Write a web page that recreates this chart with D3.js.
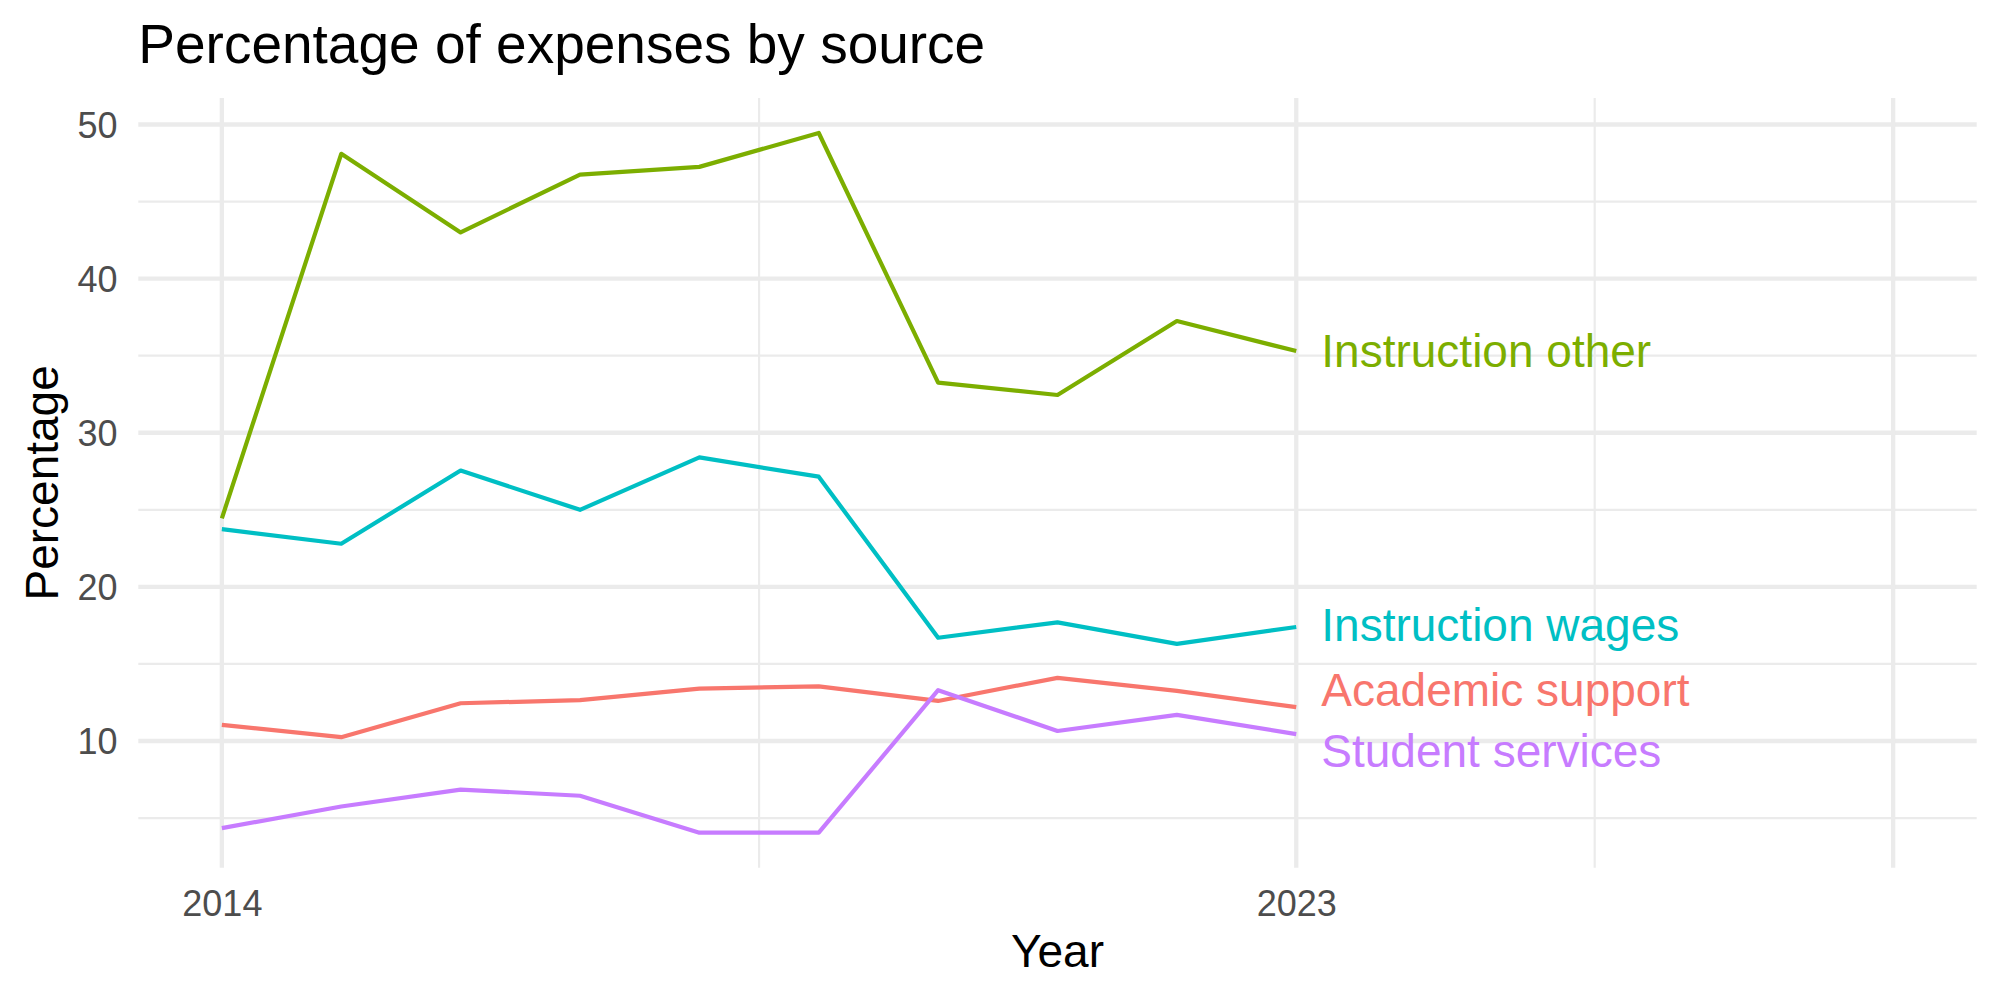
<!DOCTYPE html>
<html>
<head>
<meta charset="utf-8">
<script src="https://cdn.jsdelivr.net/npm/d3@7"></script>
<style>
  body { margin: 0; background: #fff; }
  text { font-family: "Liberation Sans", Arial, sans-serif; }
</style>
</head>
<body>
<div class="chart"></div>
<script>
// data
const years = [2014, 2015, 2016, 2017, 2018, 2019, 2020, 2021, 2022, 2023]
const sources = ["Academic support", "Instruction other", "Instruction wages", "Student services"]
const academicSupport = [11.05, 10.25, 12.45, 12.65, 13.4, 13.55, 12.6, 14.1, 13.25, 12.2]
const instructionOther = [24.45, 48.1, 43.0, 46.75, 47.25, 49.45, 33.25, 32.45, 37.25, 35.3]
const instructionWages = [23.75, 22.8, 27.55, 25.0, 28.4, 27.15, 16.7, 17.7, 16.3, 17.4]
const studentServices = [4.35, 5.75, 6.85, 6.45, 4.05, 4.05, 13.3, 10.65, 11.7, 10.45]
// end labels (repelled a little so they don't overlap)
const labelValues = [13.36, 35.32, 17.54, 9.36]
const labelYear = 2023.21
const xLimits = [2014, 2028]
const xBreaks = [2014, 2023, 2028]
const xLabels = ["2014", "2023", ""]
const xMinor = [2018.5, 2025.5]
const yBreaks = [10, 20, 30, 40, 50]
const yMinor = [5, 15, 25, 35, 45]
const colors = ["#F8766D", "#7CAE00", "#00BFC4", "#C77CFF"]

const W = 2000, H = 1000
const panelLeft = 138.3, panelRight = 1976.7, panelTop = 98, panelBottom = 867.7

const series = [academicSupport, instructionOther, instructionWages, studentServices]
  .map((vals, i) => ({
    name: sources[i],
    color: colors[i],
    label: labelValues[i],
    values: vals.map((v, j) => ({ year: years[j], value: v }))
  }))

// ggplot-like 5% expansion
function expand(ext) {
  const pad = (ext[1] - ext[0]) * 0.05
  return [ext[0] - pad, ext[1] + pad]
}
const allValues = series.flatMap(s => s.values.map(d => d.value))

const x = d3.scaleLinear().domain(expand(xLimits)).range([panelLeft, panelRight])
const y = d3.scaleLinear().domain(expand(d3.extent(allValues))).range([panelBottom, panelTop])

const svg = d3.select('.chart')
  .append('svg')
  .attr('width', W)
  .attr('height', H)
  .style('background', '#fff')

// grid
const grid = svg.append('g')
grid.selectAll('.ymin').data(yMinor).enter().append('line')
  .attr('x1', panelLeft).attr('x2', panelRight)
  .attr('y1', d => y(d)).attr('y2', d => y(d))
  .attr('stroke', '#EBEBEB').attr('stroke-width', 2.2)
grid.selectAll('.xmin').data(xMinor).enter().append('line')
  .attr('x1', d => x(d)).attr('x2', d => x(d))
  .attr('y1', panelTop).attr('y2', panelBottom)
  .attr('stroke', '#EBEBEB').attr('stroke-width', 2.2)
grid.selectAll('.ymaj').data(yBreaks).enter().append('line')
  .attr('x1', panelLeft).attr('x2', panelRight)
  .attr('y1', d => y(d)).attr('y2', d => y(d))
  .attr('stroke', '#EBEBEB').attr('stroke-width', 4.3)
grid.selectAll('.xmaj').data(xBreaks).enter().append('line')
  .attr('x1', d => x(d)).attr('x2', d => x(d))
  .attr('y1', panelTop).attr('y2', panelBottom)
  .attr('stroke', '#EBEBEB').attr('stroke-width', 4.3)

// lines
const line = d3.line()
  .x(d => x(d.year))
  .y(d => y(d.value))

svg.selectAll('path.series')
  .data(series)
  .enter()
  .append('path')
  .attr('class', 'series')
  .attr('d', d => line(d.values))
  .attr('fill', 'none')
  .attr('stroke', d => d.color)
  .attr('stroke-width', 4.2)
  .attr('stroke-linejoin', 'round')

// end labels
svg.selectAll('text.endlabel')
  .data(series)
  .enter()
  .append('text')
  .attr('class', 'endlabel')
  .attr('x', x(labelYear))
  .attr('y', d => y(d.label) + 46 * 0.358)
  .attr('fill', d => d.color)
  .attr('font-size', 46)
  .text(d => d.name)

// axes (text only, theme_minimal style)
const yAxis = d3.axisLeft(y).tickValues(yBreaks).tickSize(0).tickPadding(0)
svg.append('g')
  .attr('transform', `translate(${117.5},0)`)
  .call(yAxis)
  .call(g => g.select('.domain').remove())
  .call(g => g.selectAll('text')
    .attr('font-size', 36)
    .attr('font-family', '"Liberation Sans", Arial, sans-serif')
    .attr('fill', '#4D4D4D')
    .attr('dy', null)
    .attr('y', 36 * 0.36))

const xAxis = d3.axisBottom(x).tickValues(xBreaks).tickFormat((d, i) => xLabels[i]).tickSize(0).tickPadding(0)
svg.append('g')
  .attr('transform', `translate(0,${916})`)
  .call(xAxis)
  .call(g => g.select('.domain').remove())
  .call(g => g.selectAll('text')
    .attr('font-size', 36)
    .attr('font-family', '"Liberation Sans", Arial, sans-serif')
    .attr('fill', '#4D4D4D')
    .attr('dy', null)
    .attr('y', 0))

// titles
svg.append('text')
  .attr('x', panelLeft)
  .attr('y', 63.3)
  .attr('font-size', 55)
  .attr('fill', '#000')
  .text('Percentage of expenses by source')

svg.append('text')
  .attr('x', (panelLeft + panelRight) / 2)
  .attr('y', 967)
  .attr('text-anchor', 'middle')
  .attr('font-size', 46)
  .attr('fill', '#000')
  .text('Year')

svg.append('text')
  .attr('transform', `translate(${58},${(panelTop + panelBottom) / 2}) rotate(-90)`)
  .attr('text-anchor', 'middle')
  .attr('font-size', 46)
  .attr('fill', '#000')
  .text('Percentage')
</script>
</body>
</html>
